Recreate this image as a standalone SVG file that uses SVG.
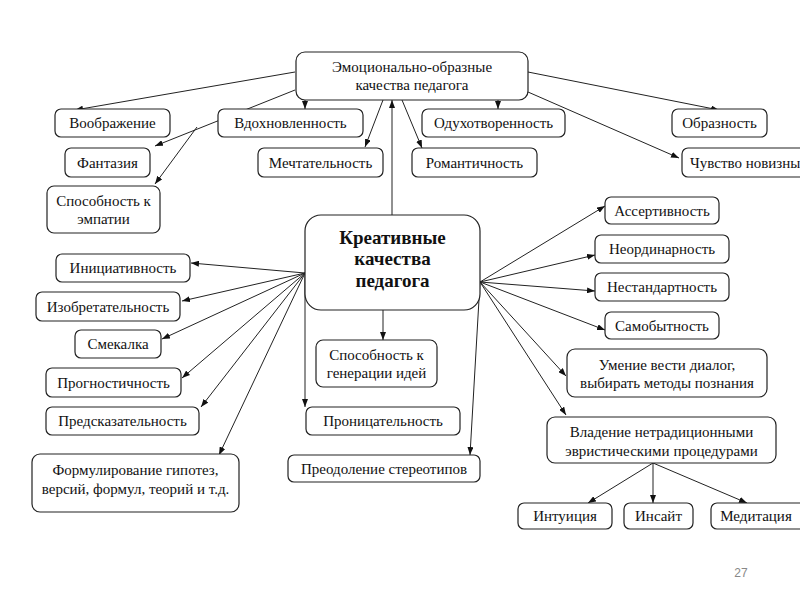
<svg xmlns="http://www.w3.org/2000/svg" width="800" height="600" viewBox="0 0 800 600">
<defs>
<marker id="ah" markerWidth="8" markerHeight="6" refX="8" refY="3" orient="auto" markerUnits="userSpaceOnUse"><path d="M0,0 L8,3 L0,6 Z" fill="#111"/></marker>
<style>
.n rect{fill:#fff;stroke:#222;stroke-width:1.2}
.n text{font-family:"Liberation Serif","DejaVu Serif","Times New Roman",serif;font-size:15px;fill:#111;text-anchor:middle;dominant-baseline:central}
.b text{font-size:19px;font-weight:bold}
.c line{stroke:#222;stroke-width:1;fill:none;marker-end:url(#ah)}
</style>
</defs>
<rect width="800" height="600" fill="#fff"/>
<g class="c" id="connectors">
<line x1="295" y1="72" x2="75" y2="110"/>
<line x1="295" y1="90" x2="155" y2="146"/>
<line x1="197" y1="127" x2="155" y2="184"/>
<line x1="305" y1="100" x2="305" y2="109"/>
<line x1="383" y1="100" x2="365" y2="147"/>
<line x1="402" y1="100" x2="422" y2="148"/>
<line x1="498" y1="100" x2="498" y2="109"/>
<line x1="528" y1="72" x2="719" y2="110"/>
<line x1="528" y1="92" x2="679" y2="158"/>
<line x1="392" y1="215" x2="392" y2="100"/>
<line x1="383" y1="310" x2="383" y2="340"/>
<line x1="305" y1="273" x2="305" y2="407"/>
<line x1="480" y1="282" x2="470" y2="455"/>
<line x1="305" y1="273" x2="191" y2="263"/>
<line x1="305" y1="273" x2="182" y2="301"/>
<line x1="305" y1="273" x2="162" y2="339"/>
<line x1="305" y1="273" x2="182" y2="378"/>
<line x1="305" y1="273" x2="201" y2="407"/>
<line x1="305" y1="273" x2="219" y2="455"/>
<line x1="480" y1="282" x2="605" y2="206"/>
<line x1="480" y1="282" x2="595" y2="255"/>
<line x1="480" y1="282" x2="595" y2="291"/>
<line x1="480" y1="282" x2="605" y2="330"/>
<line x1="480" y1="282" x2="566" y2="376"/>
<line x1="480" y1="282" x2="566" y2="415"/>
<line x1="653" y1="463" x2="588" y2="503"/>
<line x1="653" y1="463" x2="653" y2="503"/>
<line x1="653" y1="463" x2="747" y2="503"/>
</g>
<g class="n" id="n_emo"><rect x="296" y="52" width="232" height="48" rx="9"/><text x="412" y="67">Эмоционально-образные</text><text x="412" y="85">качества педагога</text></g>
<g class="n" id="n_voobr"><rect x="55" y="109" width="115" height="28" rx="6"/><text x="112.5" y="123">Воображение</text></g>
<g class="n" id="n_vdokh"><rect x="218" y="109" width="145" height="28" rx="6"/><text x="290.5" y="123">Вдохновленность</text></g>
<g class="n" id="n_odukh"><rect x="422" y="109" width="143" height="28" rx="6"/><text x="493.5" y="123">Одухотворенность</text></g>
<g class="n" id="n_obraz"><rect x="672" y="109" width="95" height="28" rx="6"/><text x="719.5" y="123">Образность</text></g>
<g class="n" id="n_fant"><rect x="65" y="148" width="85" height="29" rx="6"/><text x="107.5" y="162.5">Фантазия</text></g>
<g class="n" id="n_mecht"><rect x="258" y="148" width="125" height="29" rx="6"/><text x="320.5" y="162.5">Мечтательность</text></g>
<g class="n" id="n_roman"><rect x="412" y="148" width="125" height="29" rx="6"/><text x="474.5" y="162.5">Романтичность</text></g>
<g class="n" id="n_novizna"><rect x="682" y="148" width="130" height="29" rx="6"/><text x="690" y="162.5" style="text-anchor:start">Чувство новизны</text></g>
<g class="n" id="n_empat"><rect x="47" y="186" width="113" height="47" rx="7"/><text x="103.5" y="201">Способность к</text><text x="103.5" y="219">эмпатии</text></g>
<g class="n b" id="n_kreat"><rect x="305" y="215" width="175" height="95" rx="16"/><text x="392.5" y="237">Креативные</text><text x="392.5" y="258">качества</text><text x="392.5" y="280">педагога</text></g>
<g class="n" id="n_assert"><rect x="605" y="197" width="114" height="27" rx="6"/><text x="662" y="210.5">Ассертивность</text></g>
<g class="n" id="n_neord"><rect x="595" y="235" width="134" height="28" rx="6"/><text x="662" y="249">Неординарность</text></g>
<g class="n" id="n_nestand"><rect x="595" y="273" width="134" height="28" rx="6"/><text x="662" y="287">Нестандартность</text></g>
<g class="n" id="n_samob"><rect x="605" y="312" width="114" height="27" rx="6"/><text x="662" y="325.5">Самобытность</text></g>
<g class="n" id="n_dialog"><rect x="567" y="349" width="200" height="48" rx="8"/><text x="667" y="365">Умение вести диалог,</text><text x="667" y="383">выбирать методы познания</text></g>
<g class="n" id="n_vlad"><rect x="547" y="417" width="229" height="46" rx="8"/><text x="661.5" y="432">Владение нетрадиционными</text><text x="661.5" y="451">эвристическими процедурами</text></g>
<g class="n" id="n_intu"><rect x="518" y="503" width="94" height="26" rx="6"/><text x="565" y="516">Интуиция</text></g>
<g class="n" id="n_insait"><rect x="624" y="503" width="69" height="26" rx="6"/><text x="658.5" y="516">Инсайт</text></g>
<g class="n" id="n_medit"><rect x="711" y="503" width="100" height="26" rx="6"/><text x="756" y="516">Медитация</text></g>
<g class="n" id="n_init"><rect x="56" y="254" width="134" height="28" rx="6"/><text x="123" y="268">Инициативность</text></g>
<g class="n" id="n_izobr"><rect x="36" y="292" width="144" height="29" rx="6"/><text x="108" y="306.5">Изобретательность</text></g>
<g class="n" id="n_smek"><rect x="75" y="330" width="86" height="28" rx="6"/><text x="118" y="344">Смекалка</text></g>
<g class="n" id="n_progn"><rect x="46" y="368" width="135" height="29" rx="6"/><text x="113.5" y="382.5">Прогностичность</text></g>
<g class="n" id="n_predsk"><rect x="46" y="407" width="153" height="28" rx="6"/><text x="122.5" y="421">Предсказательность</text></g>
<g class="n" id="n_formul"><rect x="32" y="454" width="207" height="58" rx="8"/><text x="135.5" y="470">Формулирование гипотез,</text><text x="135.5" y="489">версий, формул, теорий и т.д.</text></g>
<g class="n" id="n_gener"><rect x="316" y="340" width="121" height="47" rx="7"/><text x="376.5" y="355">Способность к</text><text x="376.5" y="373">генерации идей</text></g>
<g class="n" id="n_pronic"><rect x="306" y="407" width="154" height="28" rx="6"/><text x="383" y="421">Проницательность</text></g>
<g class="n" id="n_preod"><rect x="288" y="455" width="192" height="27" rx="6"/><text x="384" y="468.5">Преодоление стереотипов</text></g>
<text x="741" y="573" font-family="Liberation Sans, Arial, sans-serif" font-size="12" fill="#888" text-anchor="middle" dominant-baseline="central">27</text>
</svg>
